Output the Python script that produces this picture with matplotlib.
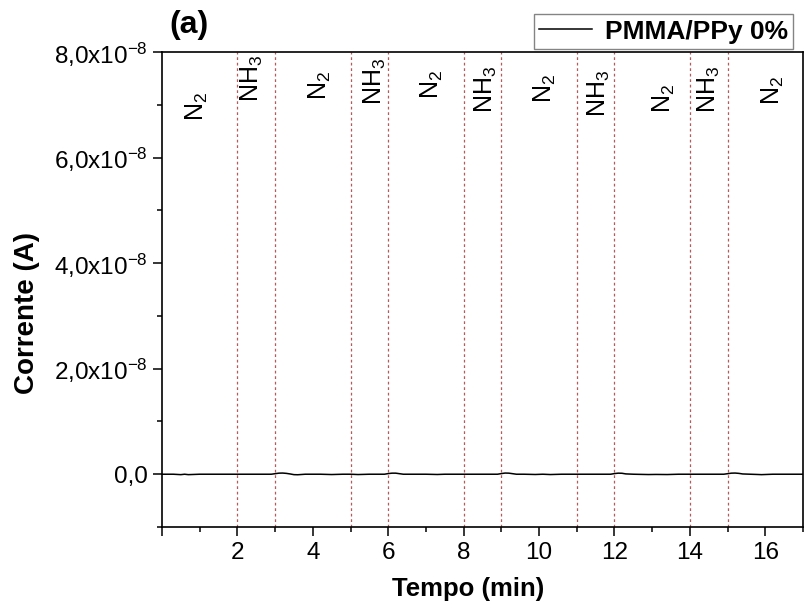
import numpy as np
import matplotlib.pyplot as plt
from matplotlib.ticker import MultipleLocator, FixedLocator, FixedFormatter

plt.rcParams['font.family'] = ['Liberation Sans', 'DejaVu Sans']
plt.rcParams['mathtext.fontset'] = 'custom'
plt.rcParams['mathtext.rm'] = 'Liberation Sans'
plt.rcParams['mathtext.it'] = 'Liberation Sans:italic'
plt.rcParams['mathtext.bf'] = 'Liberation Sans:bold'

# corrente medida (A) ao longo do tempo (min)
tempo = [0.0, 0.3, 0.5, 0.6, 0.7, 1.0, 1.5, 2.0, 2.5, 2.9, 3.0, 3.1, 3.2, 3.3, 3.4,
         3.5, 3.6, 3.8, 4.0, 4.2, 4.5, 4.8, 5.0, 5.2, 5.5, 5.9, 6.0, 6.1, 6.2, 6.3,
         6.4, 6.6, 7.0, 7.3, 7.5, 7.8, 8.0, 8.5, 8.9, 9.0, 9.1, 9.2, 9.3, 9.4, 9.6,
         9.9, 10.1, 10.3, 10.6, 11.0, 11.4, 11.9, 12.0, 12.1, 12.2, 12.3, 12.5,
         12.9, 13.1, 13.4, 13.7, 14.0, 14.5, 14.9, 15.0, 15.1, 15.2, 15.3, 15.4,
         15.6, 15.8, 15.9, 16.2, 16.6, 17.0]
corrente = [0.0, 0.0, -0.8e-10, 0.0, -0.8e-10, 0.0, 0.0, 0.0, 0.0, 0.0, 1.0e-10,
            2.0e-10, 2.2e-10, 1.6e-10, 0.5e-10, -0.8e-10, -1.0e-10, 0.0, 0.0, 0.0,
            -0.6e-10, 0.0, 0.0, -0.6e-10, 0.0, 0.0, 1.2e-10, 2.0e-10, 2.0e-10,
            1.0e-10, 0.0, 0.0, 0.0, -0.5e-10, 0.0, 0.0, 0.0, 0.0, 0.0, 1.2e-10,
            2.2e-10, 2.0e-10, 1.0e-10, 0.0, 0.0, -0.5e-10, 0.0, -0.6e-10, 0.0,
            0.0, 0.0, 0.0, 1.2e-10, 2.0e-10, 1.8e-10, 0.6e-10, 0.0, -0.6e-10,
            -0.4e-10, -0.6e-10, 0.0, 0.0, 0.0, 0.0, 1.0e-10, 2.0e-10, 2.2e-10,
            1.6e-10, 0.5e-10, 0.0, -0.5e-10, -0.8e-10, 0.0, 0.0, 0.0]

# instantes de troca de gás e rótulos de cada intervalo
trocas = [2, 3, 5, 6, 8, 9, 11, 12, 14, 15]
rotulos = [r'N$_2$', r'NH$_3$', r'N$_2$', r'NH$_3$', r'N$_2$', r'NH$_3$',
           r'N$_2$', r'NH$_3$', r'N$_2$', r'NH$_3$', r'N$_2$']
rotulos_x = [0.93, 2.38, 4.2, 5.65, 7.16, 8.6, 10.16, 11.6, 13.3, 14.5, 16.2]
rotulos_y = [6.97e-8, 7.50e-8, 7.37e-8, 7.45e-8, 7.39e-8, 7.30e-8, 7.31e-8,
             7.22e-8, 7.12e-8, 7.30e-8, 7.28e-8]

fig = plt.figure(figsize=(8.05, 6.14), dpi=100)
ax = fig.add_axes([0.2012, 0.1417, 0.7963, 0.7736])

# linhas de troca de gás
for t in trocas:
    ax.axvline(t, color='#b45a5a', lw=0.9, ls=(0, (2.2, 2.2)), zorder=1)

ax.plot(tempo, corrente, color='black', lw=1.1, label='PMMA/PPy 0%', zorder=3)

for lx, ly, txt in zip(rotulos_x, rotulos_y, rotulos):
    ax.text(lx, ly, txt, rotation=90, ha='center', va='center', fontsize=18)

ax.set_xlim(0, 17)
ax.set_ylim(-1.0e-8, 8.0e-8)

ax.xaxis.set_major_locator(FixedLocator([0, 2, 4, 6, 8, 10, 12, 14, 16]))
ax.xaxis.set_major_formatter(FixedFormatter(['', '2', '4', '6', '8', '10', '12', '14', '16']))
ax.xaxis.set_minor_locator(MultipleLocator(1))

yt = [0, 2e-8, 4e-8, 6e-8, 8e-8]
ax.yaxis.set_major_locator(FixedLocator(yt))
ax.yaxis.set_major_formatter(FixedFormatter(['0,0', r'2,0x10$^{-8}$', r'4,0x10$^{-8}$',
                                             r'6,0x10$^{-8}$', r'8,0x10$^{-8}$']))
ax.yaxis.set_minor_locator(FixedLocator([-1e-8, 1e-8, 3e-8, 5e-8, 7e-8]))

ax.tick_params(which='major', direction='out', length=6.5, width=1.1, labelsize=17.5, pad=4)
ax.tick_params(which='minor', direction='out', length=3.5, width=1.1)
for s in ax.spines.values():
    s.set_linewidth(1.2)

ax.set_xlabel('Tempo (min)', fontsize=18.5, fontweight='bold')
ax.xaxis.set_label_coords(0.477, -0.105)
ax.set_ylabel('Corrente (A)', fontsize=20, fontweight='bold')
ax.yaxis.set_label_coords(-0.19, 0.45)

ax.text(0.012, 1.025, '(a)', transform=ax.transAxes, fontsize=23, fontweight='bold',
        ha='left', va='bottom')
ax.legend(loc='lower right', bbox_to_anchor=(0.99, 1.0), frameon=True, fancybox=False,
          edgecolor='#666666', prop={'size': 19, 'weight': 'bold'}, handlelength=2.0,
          borderpad=0.2, borderaxespad=0.12, handletextpad=0.5)

fig.savefig('out.png', dpi=100)
